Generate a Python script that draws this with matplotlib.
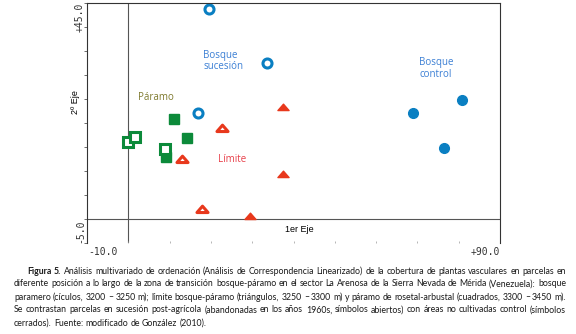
import numpy as np
import matplotlib
matplotlib.use('Agg')
import matplotlib.pyplot as plt
from matplotlib.path import Path

# Data (1er Eje, 2º Eje).
suc_circ_x = [19.5, 33.6, 16.9]          # bosque sucesion (open circles)
suc_circ_y = [43.8, 32.5, 22.1]
ctl_circ_x = [68.9, 80.8, 76.4]          # bosque control (filled circles)
ctl_circ_y = [22.1, 24.8, 14.8]
ctl_tri_x = [37.5, 37.5, 29.5]           # limite control (filled triangles)
ctl_tri_y = [23.3, 9.4, 0.6]
suc_tri_x = [22.7, 13.0, 17.8]           # limite sucesion (open triangles)
suc_tri_y = [19.0, 12.5, 2.1]
ctl_sq_x = [11.1, 14.2, 9.1]             # paramo control (filled squares)
ctl_sq_y = [20.8, 16.9, 12.9]
suc_sq_x = [-0.1, 1.6, 8.9]              # paramo sucesion (open squares)
suc_sq_y = [16.0, 17.1, 14.6]

xlim = (-10, 90)
ylim = (-5, 45)

caption = [
    "Figura 5. Análisis multivariado de ordenación (Análisis de Correspondencia Linearizado) de la cobertura de plantas vasculares en parcelas en",
    "diferente posición a lo largo de la zona de transición bosque-páramo en el sector La Arenosa de la Sierra Nevada de Mérida (Venezuela): bosque",
    "paramero (cículos, 3200 – 3250 m); límite bosque-páramo (triángulos, 3250 – 3300 m) y páramo de rosetal-arbustal (cuadrados, 3300 – 3450 m).",
    "Se contrastan parcelas en sucesión post-agrícola (abandonadas en los años 1960s, símbolos abiertos) con áreas no cultivadas control (símbolos",
    "cerrados). Fuente: modificado de González (2010).",
]

blue = '#0a7fc2'
red = '#e8381c'
green = '#0c8a3a'

# flattened triangle marker
tri = Path([(-1, -0.55), (1, -0.55), (0, 0.6), (-1, -0.55)],
           [Path.MOVETO, Path.LINETO, Path.LINETO, Path.CLOSEPOLY])

W, H = 576, 334
fig = plt.figure(figsize=(5.76, 3.34), dpi=100)
ax = fig.add_axes([87/W, 1 - 243/H, 413/W, 240/H])
ax.set_xlim(xlim)
ax.set_ylim(ylim)

ax.axhline(0, color='#555555', lw=0.8, zorder=1)
ax.axvline(0, color='#555555', lw=0.8, zorder=1)

ax.plot(suc_circ_x, suc_circ_y, 'o', ms=6.5, mfc='white', mec=blue, mew=2.2, ls='none')
ax.plot(ctl_circ_x, ctl_circ_y, 'o', ms=7, mfc=blue, mec=blue, ls='none')
ax.plot(ctl_tri_x, ctl_tri_y, marker=tri, ms=8, mfc=red, mec=red, ls='none')
ax.plot(suc_tri_x, suc_tri_y, marker=tri, ms=8, mfc='white', mec=red, mew=2.2, ls='none')
ax.plot(ctl_sq_x, ctl_sq_y, 's', ms=7.5, mfc=green, mec=green, ls='none')
ax.plot(suc_sq_x, suc_sq_y, 's', ms=7.5, mfc='white', mec=green, mew=2.2, ls='none')

lbl = dict(fontsize=7, family='Open Sans', va='center', ha='left', linespacing=1.1)
ax.text(2.4, 25.4, 'Páramo', color='#7f7a2e', **lbl)
ax.text(18.1, 32.9, 'Bosque\nsucesión', color='#3b7fd4', **lbl)
ax.text(70.4, 31.3, 'Bosque\ncontrol', color='#3b7fd4', **lbl)
ax.text(21.7, 12.3, 'Límite', color='#e8404a', **lbl)
ax.text(38, -2.2, '1er Eje', fontsize=6.5, family='Liberation Sans', va='center', ha='left')

for s in ['left', 'top', 'right']:
    ax.spines[s].set_color('#333333')
    ax.spines[s].set_linewidth(0.8)
ax.spines['bottom'].set_visible(False)
ax.set_yticks(np.arange(-5, 46, 5))
ax.set_xticks(np.arange(0, 81, 10))
ax.tick_params(axis='y', length=2, width=0.6, color='#555555', labelleft=False)
ax.tick_params(axis='x', length=1.5, width=0.5, color='#999999', labelbottom=False,
               direction='in')

mono = dict(fontsize=7, family='DejaVu Sans Mono', color='#333333')
fig.text(80/W, 1 - 3/H, '+45.0', rotation=90, ha='center', va='top', **mono)
fig.text(80/W, 1 - 243/H, '-5.0', rotation=90, ha='center', va='bottom', **mono)
fig.text(88/W, 1 - 252/H, '-10.0', ha='left', va='center', **mono)
fig.text(500/W, 1 - 252/H, '+90.0', ha='right', va='center', **mono)
fig.text(76/W, 1 - 102/H, '2º Eje', rotation=90, ha='center', va='center',
         fontsize=6.5, family='Liberation Sans')

# justified caption, word by word
renderer = fig.canvas.get_renderer()
cap_fs = 6.3
cap_font = 'Lato'


def width(word, weight):
    t = fig.text(0, 0, word, fontsize=cap_fs, family=cap_font, weight=weight)
    w = t.get_window_extent(renderer).width
    t.remove()
    return w


space = 2.2
line_y = [271, 284, 297, 310, 323]
for i, line in enumerate(caption):
    words = line.split(' ')
    weights = ['bold' if (i == 0 and k < 2) else 'normal' for k in range(len(words))]
    widths = [width(w, wt) for w, wt in zip(words, weights)]
    x0 = 27 if i == 0 else 14
    x1 = 566
    if i < len(caption) - 1:
        gap = (x1 - x0 - sum(widths)) / (len(words) - 1)
    else:
        gap = space
    x = x0
    for w, wt, ww in zip(words, weights, widths):
        fig.text(x / W, 1 - line_y[i] / H, w, fontsize=cap_fs, family=cap_font,
                 weight=wt, va='center', ha='left', color='#1a1a1a')
        x += ww + gap

plt.savefig('out.png', dpi=100)
